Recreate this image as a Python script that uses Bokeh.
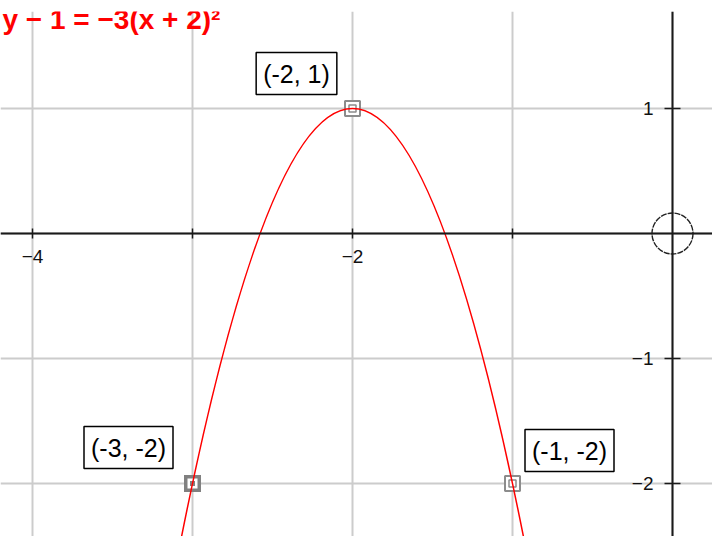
from bokeh.plotting import figure
from bokeh.models import Range1d, LinearAxis, FixedTicker, Grid, Label
from bokeh.embed import file_html
from bokeh.resources import INLINE

# ---- data ----
title_text = "y − 1 = −3(x + 2)²"
vertex_x, vertex_y = -2.0, 1.0
coef_a = -3.0
curve_x_ends = [-3.1, -0.9]

point_x = [-2, -3, -1]
point_y = [1, -2, -2]
point_labels = ["(-2, 1)", "(-3, -2)", "(-1, -2)"]
point_selected = [False, True, False]

grid_x = [-4, -3, -2, -1, 0]
grid_y = [1, 0, -1, -2]
x_ticks = [-4, -3, -2, -1]
x_tick_labels = ["−4", "", "−2", ""]
y_ticks = [1, -1, -2]
y_tick_labels = ["1", "−1", "−2"]
origin_x = [0]
origin_y = [0]

# ---- figure ----
p = figure(width=712, height=536,
           x_range=Range1d(-4.2, 0.25), y_range=Range1d(-2.424, 1.776),
           x_axis_type=None, y_axis_type=None,
           output_backend="svg", toolbar_location=None,
           min_border_left=0, min_border_right=0, min_border_bottom=0, min_border_top=11,
           outline_line_color=None, background_fill_color="white", border_fill_color="white")

p.add_layout(Grid(dimension=0, ticker=FixedTicker(ticks=grid_x),
                  grid_line_color="#cccccc", grid_line_width=2))
p.add_layout(Grid(dimension=1, ticker=FixedTicker(ticks=grid_y),
                  grid_line_color="#cccccc", grid_line_width=2))

common = dict(axis_line_color="#1a1a1a", axis_line_width=2,
              major_tick_line_color="#1a1a1a", major_tick_line_width=1.5,
              minor_tick_line_color=None,
              major_label_text_font="Liberation Sans",
              major_label_text_font_size="19px",
              major_label_text_color="#111111")
xax = LinearAxis(fixed_location=0, ticker=FixedTicker(ticks=x_ticks),
                 major_label_overrides=dict(zip(x_ticks, x_tick_labels)),
                 major_tick_in=5, major_tick_out=5, major_label_standoff=11, **common)
p.add_layout(xax, "below")
yax = LinearAxis(fixed_location=0, ticker=FixedTicker(ticks=y_ticks),
                 major_label_overrides=dict(zip(y_ticks, y_tick_labels)),
                 major_tick_in=8, major_tick_out=8, major_label_standoff=11, **common)
p.add_layout(yax, "left")

# origin circle
p.scatter(origin_x, origin_y, marker="circle", size=41, fill_color=None,
          line_color="#222222", line_width=1.4, line_dash="6 1")

# point markers
nx = [x for x, s in zip(point_x, point_selected) if not s]
ny = [y for y, s in zip(point_y, point_selected) if not s]
sx = [x for x, s in zip(point_x, point_selected) if s]
sy = [y for y, s in zip(point_y, point_selected) if s]
p.scatter(nx, ny, marker="square", size=15, fill_color="white", line_color="#8c8c8c", line_width=2)
p.scatter(nx, ny, marker="square", size=7, fill_color=None, line_color="#8c8c8c", line_width=1.5)
p.scatter(sx, sy, marker="square", size=17, fill_color="#808080", line_color=None)
p.scatter(sx, sy, marker="square", size=10, fill_color="white", line_color=None)
p.scatter(sx, sy, marker="square", size=5, fill_color="#808080", line_color=None)

# parabola as an exact quadratic Bezier through the vertex
x0, x1 = curve_x_ends
y0 = vertex_y + coef_a * (x0 - vertex_x) ** 2
y1 = vertex_y + coef_a * (x1 - vertex_x) ** 2
cx = vertex_x
cy = y0 + 2 * coef_a * (x0 - vertex_x) * (cx - x0)
p.quadratic(x0=[x0], y0=[y0], x1=[x1], y1=[y1], cx=[cx], cy=[cy],
            line_color="#ff0000", line_width=1.5)

# point labels
offsets = [(-56, 35), (-64, 36), (57, 33)]
for x, y, t, (dx, dy) in zip(point_x, point_y, point_labels, offsets):
    p.add_layout(Label(x=x, y=y, text=t, x_offset=dx, y_offset=dy,
                       text_align="center", text_baseline="middle",
                       text_font="Liberation Sans", text_font_size="25px",
                       text_color="black",
                       border_line_color="black", border_line_width=1.5,
                       background_fill_color="white", padding=7))

# title at the top-left
p.add_layout(Label(x=-4.2, y=1.864, text=title_text, text_align="left",
                   text_baseline="top", text_font="Liberation Sans",
                   text_font_size="28px", text_font_style="bold",
                   text_color="#ff0000", x_offset=2, y_offset=-3))

open("out.html", "w").write(file_html(p, INLINE))
